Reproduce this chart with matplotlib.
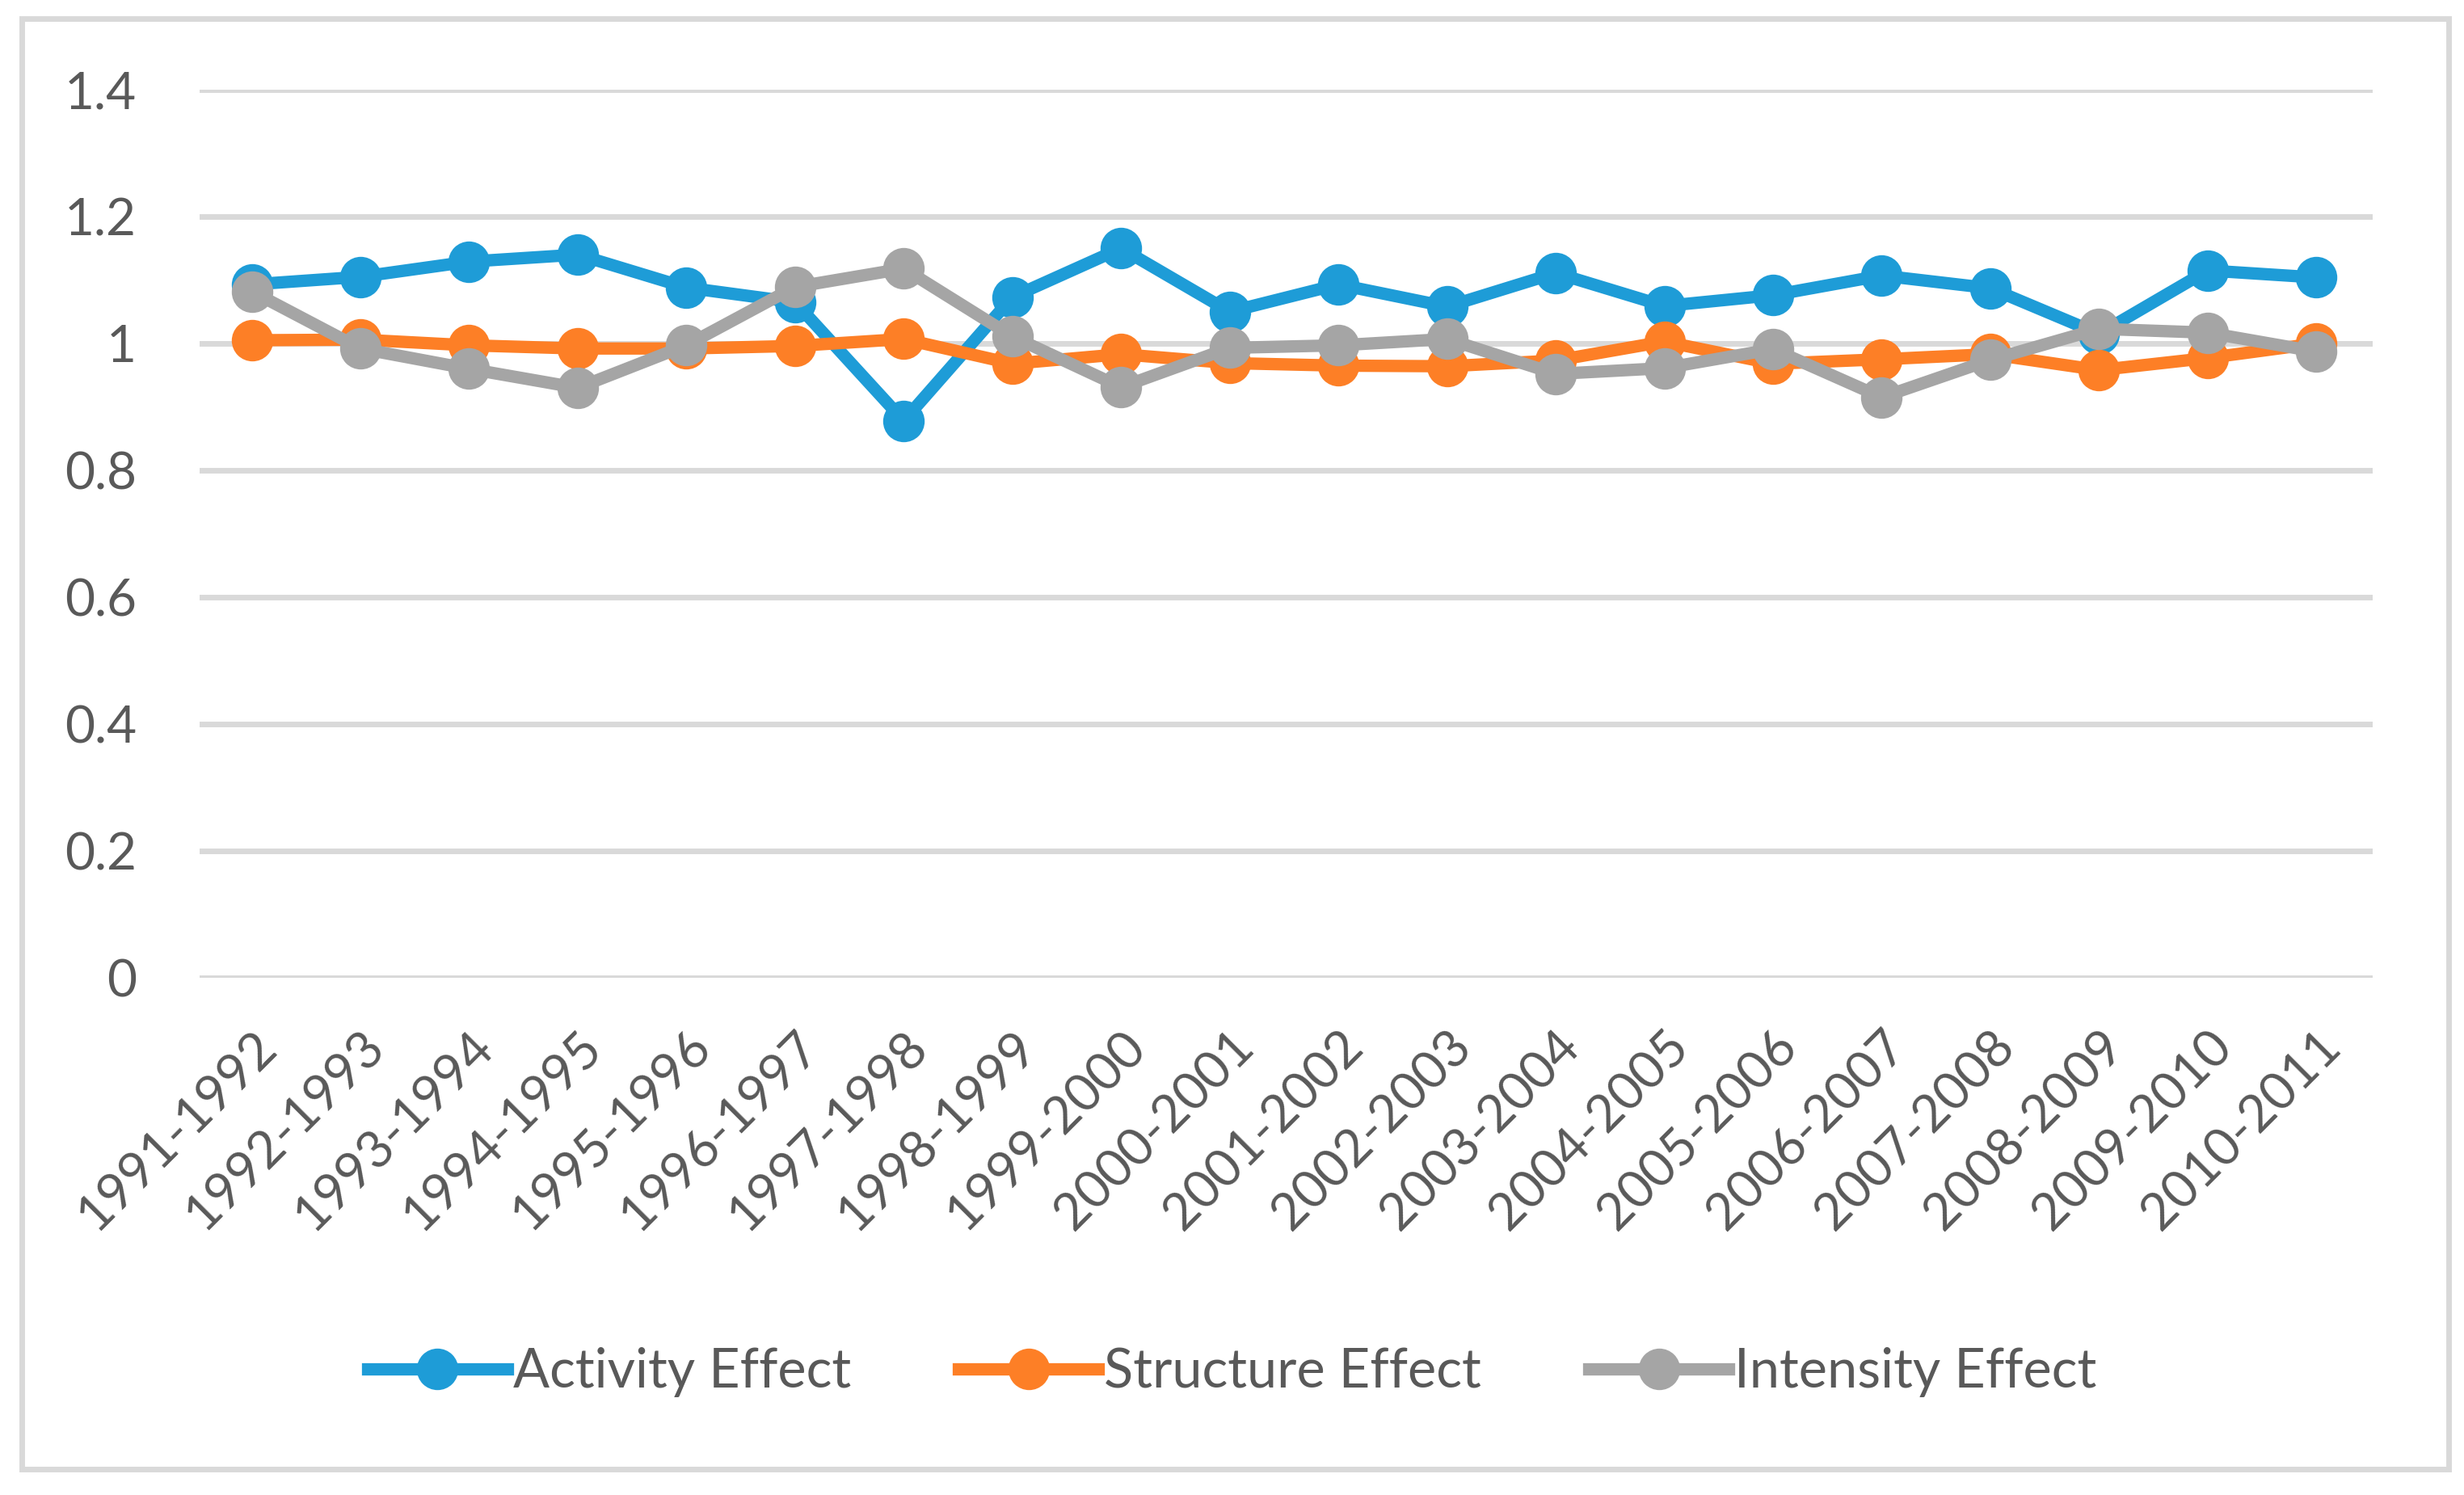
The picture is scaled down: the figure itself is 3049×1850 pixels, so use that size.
import numpy as np
from matplotlib import pyplot as plt
from matplotlib.patches import Rectangle

periods = ['1991-1992', '1992-1993', '1993-1994', '1994-1995', '1995-1996',
           '1996-1997', '1997-1998', '1998-1999', '1999-2000', '2000-2001',
           '2001-2002', '2002-2003', '2003-2004', '2004-2005', '2005-2006',
           '2006-2007', '2007-2008', '2008-2009', '2009-2010', '2010-2011']

activity = [1.093, 1.105, 1.129, 1.140, 1.088, 1.065, 0.878, 1.073, 1.150, 1.050,
            1.093, 1.058, 1.111, 1.059, 1.076, 1.107, 1.087, 1.015, 1.115, 1.104]
structure = [1.005, 1.006, 0.997, 0.992, 0.992, 0.996, 1.007, 0.968, 0.983, 0.969,
             0.965, 0.964, 0.973, 1.003, 0.968, 0.975, 0.983, 0.958, 0.977, 1.000]
intensity = [1.082, 0.992, 0.960, 0.930, 0.997, 1.089, 1.118, 1.011, 0.931, 0.993,
             0.997, 1.007, 0.952, 0.961, 0.991, 0.915, 0.974, 1.023, 1.017, 0.987]

series_names = ['Activity Effect', 'Structure Effect', 'Intensity Effect']
series_colors = ['#1E9CD7', '#FD7F26', '#A5A5A5']

plt.rcParams['font.family'] = ['Lato', 'DejaVu Sans']
txt_color = '#595959'

fig = plt.figure(figsize=(15.245, 9.25), dpi=200)
ax = fig.add_axes([0.081, 0.346, 0.882, 0.594])

x = np.arange(len(periods))
for vals, name, col in zip([activity, structure, intensity], series_names, series_colors):
    ax.plot(x, vals, color=col, lw=5.5, marker='o', markersize=18.5,
            markeredgewidth=0, label=name)

ax.set_ylim(0, 1.4)
ax.set_xlim(-0.48, 19.52)
ax.set_yticks(np.arange(0, 1.41, 0.2))
ax.set_yticklabels(['0', '0.2', '0.4', '0.6', '0.8', '1', '1.2', '1.4'])
ax.set_xticks(x)
ax.set_xticklabels(periods, rotation=45, ha='right', rotation_mode='anchor')
ax.tick_params(axis='both', length=0, labelsize=23, labelcolor=txt_color)
ax.tick_params(axis='x', pad=20)
ax.tick_params(axis='y', pad=28)

ax.grid(axis='y', color='#D9D9D9', lw=2.5)
ax.set_axisbelow(True)
for s in ax.spines.values():
    s.set_visible(False)

leg = fig.legend(loc='center', bbox_to_anchor=(0.5, 0.082), ncol=3, frameon=False,
                 fontsize=24, handlelength=2.6, columnspacing=2.0, handletextpad=0.1)
for t in leg.get_texts():
    t.set_color(txt_color)

# chart border
fig.patches.append(Rectangle((27 / 3049, 1 - 1818 / 1850), (3030 - 27) / 3049, (1818 - 23) / 1850,
                             transform=fig.transFigure, fill=False, ec='#D9D9D9', lw=2.5))

fig.savefig('out.png', dpi=200, facecolor='white')
